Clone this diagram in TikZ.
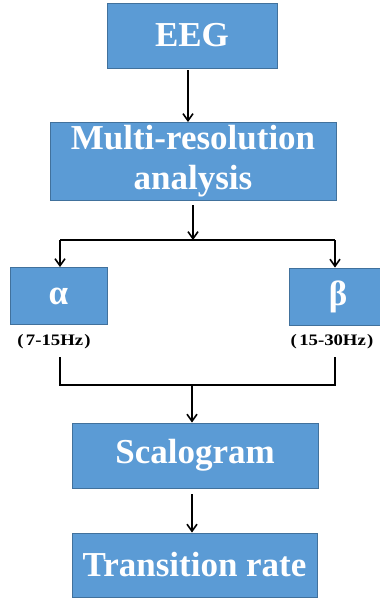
\documentclass[tikz,border=0pt]{standalone}
\usepackage{fontspec}
\setmainfont{Liberation Serif}
\usetikzlibrary{arrows.meta}
\definecolor{boxfill}{HTML}{5B9BD5}
\definecolor{boxline}{HTML}{41719C}
\tikzset{
  blk/.style={draw=boxline, line width=0.9pt, fill=boxfill, text=white, font=\bfseries\fontsize{35}{36}\selectfont, inner sep=0pt, align=center},
  arr/.style={line width=1.6pt, -{Straight Barb[length=7pt,width=10pt,line width=1.6pt]}},
  ln/.style={line width=1.6pt},
  lab/.style={font=\bfseries\fontsize{16}{17}\selectfont, inner sep=0pt}
}
\begin{document}
\begin{tikzpicture}[x=1pt,y=-1pt]
\useasboundingbox (0,0) rectangle (380,598);
% boxes
\node[blk, minimum width=170pt, minimum height=65pt] (eeg) at (192,35.5) {EEG};
\node[blk, minimum width=286pt, minimum height=78pt, font=\bfseries\fontsize{35}{40}\selectfont] (mra) at (193,161) {Multi-resolution\\analysis};
\node[blk, minimum width=97pt, minimum height=57pt] (alpha) at (58.5,296) {α};
\node[blk, minimum width=98pt, minimum height=57pt] (beta) at (338,296.5) {β};
\node[blk, minimum width=246pt, minimum height=65pt] (scal) at (195,455.5) {Scalogram};
\node[blk, minimum width=245pt, minimum height=64pt] (trans) at (194.5,565) {Transition rate};
% labels
\node[lab] (la) at (54,342) {\scalebox{1.17}[1]{(\kern2pt 7-15Hz\kern1pt)}};
\node[lab] (lb) at (332,342) {\scalebox{1.17}[1]{(\kern2pt 15-30Hz\kern1pt)}};
% connectors
\coordinate (s1) at (60,240);
\coordinate (s2) at (335,240);
\coordinate (m1) at (193,240);
\coordinate (j1) at (60,385);
\coordinate (j2) at (335,385);
\coordinate (jm) at (192,385);
\draw[arr] (188,70) -- (188,122);
\draw[arr] (mra.south -| m1) ++(0,5) -- (m1);
\draw[ln] (s1) -- (s2);
\draw[arr] (s1) -- (alpha.north -| s1);
\draw[arr] (s2) -- (beta.north -| s2);
\draw[ln] (60,357) -- (j1) -- (j2) -- (335,357);
\draw[arr] (jm) -- (scal.north -| jm);
\draw[arr] (192,494) -- (trans.north -| 192,0);
\end{tikzpicture}
\end{document}
